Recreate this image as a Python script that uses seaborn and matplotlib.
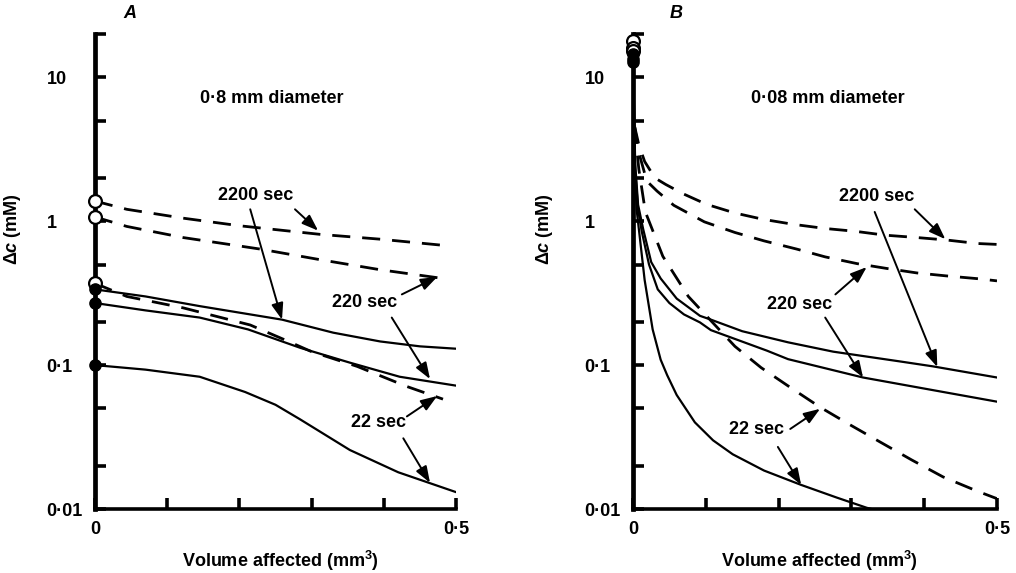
import matplotlib
matplotlib.use("Agg")
import matplotlib.pyplot as plt
from matplotlib.patches import ArrowStyle
import numpy as np
import pandas as pd
import seaborn as sns

# ---------------- data ----------------
# Panel A : 0.8 mm diameter
A_d2200_x = [0, 0.044, 0.122, 0.2, 0.312, 0.395, 0.482]
A_d2200_y = [1.38, 1.21, 1.05, 0.93, 0.81, 0.75, 0.68]
A_d220_x = [0, 0.044, 0.122, 0.229, 0.312, 0.395, 0.482]
A_d220_y = [1.07, 0.92, 0.77, 0.64, 0.54, 0.46, 0.40]
A_d22_x = [0, 0.044, 0.122, 0.215, 0.26, 0.30, 0.363, 0.432, 0.482]
A_d22_y = [0.37, 0.30, 0.25, 0.19, 0.152, 0.124, 0.098, 0.071, 0.058]
A_s2200_x = [0, 0.07, 0.145, 0.259, 0.33, 0.395, 0.45, 0.5]
A_s2200_y = [0.336, 0.30, 0.257, 0.207, 0.168, 0.146, 0.135, 0.130]
A_s220_x = [0, 0.07, 0.145, 0.212, 0.284, 0.353, 0.422, 0.5]
A_s220_y = [0.27, 0.24, 0.214, 0.177, 0.132, 0.104, 0.083, 0.072]
A_s22_x = [0, 0.07, 0.145, 0.208, 0.25, 0.284, 0.353, 0.42, 0.5]
A_s22_y = [0.10, 0.093, 0.083, 0.065, 0.053, 0.042, 0.0257, 0.018, 0.0131]
A_open = [1.38, 1.07, 0.37]
A_filled = [0.336, 0.27, 0.10]

# Panel B : 0.08 mm diameter
B_d2200_x = [0.002, 0.008, 0.016, 0.03, 0.045, 0.069, 0.101, 0.14, 0.179, 0.221,
             0.264, 0.306, 0.346, 0.39, 0.431, 0.473, 0.5]
B_d2200_y = [4.6, 3.4, 2.6, 2.0, 1.8, 1.55, 1.31, 1.14, 1.03, 0.95,
             0.89, 0.85, 0.80, 0.77, 0.74, 0.70, 0.69]
B_d220_x = [0.002, 0.008, 0.019, 0.033, 0.056, 0.098, 0.14, 0.18, 0.225, 0.264,
            0.308, 0.348, 0.39, 0.43, 0.475, 0.5]
B_d220_y = [4.6, 3.0, 1.9, 1.62, 1.29, 0.99, 0.835, 0.73, 0.64, 0.565,
            0.507, 0.47, 0.437, 0.417, 0.398, 0.385]
B_d22_x = [0.002, 0.008, 0.017, 0.041, 0.076, 0.103, 0.14, 0.176, 0.216, 0.257,
           0.298, 0.339, 0.383, 0.426, 0.473, 0.5]
B_d22_y = [4.6, 2.3, 1.16, 0.57, 0.30, 0.214, 0.135, 0.096, 0.070, 0.051,
           0.0385, 0.0293, 0.0219, 0.0167, 0.0133, 0.0118]
B_s2200_x = [0, 0.003, 0.007, 0.014, 0.025, 0.038, 0.06, 0.092, 0.107, 0.15,
             0.213, 0.275, 0.367, 0.412, 0.5]
B_s2200_y = [14.5, 2.5, 1.3, 0.88, 0.52, 0.40, 0.29, 0.22, 0.207, 0.172,
             0.144, 0.124, 0.106, 0.098, 0.082]
B_s220_x = [0, 0.003, 0.007, 0.012, 0.022, 0.034, 0.05, 0.07, 0.092, 0.107,
            0.184, 0.213, 0.316, 0.412, 0.5]
B_s220_y = [13.5, 2.3, 1.2, 0.85, 0.5, 0.336, 0.27, 0.225, 0.198, 0.175,
            0.126, 0.110, 0.082, 0.067, 0.0557]
B_s22_x = [0, 0.002, 0.005, 0.009, 0.016, 0.027, 0.038, 0.047, 0.06, 0.085,
           0.11, 0.137, 0.18, 0.231, 0.28, 0.321, 0.345]
B_s22_y = [12.8, 2.5, 1.2, 0.8, 0.39, 0.177, 0.109, 0.085, 0.062, 0.040,
           0.030, 0.024, 0.0185, 0.0147, 0.012, 0.0102, 0.0095]
B_open = [18.0, 16.0, 15.3]
B_filled = [14.5, 13.5, 12.8]

y_ticks = [0.01, 0.02, 0.05, 0.1, 0.2, 0.5, 1, 2, 5, 10, 20]
y_ticklabels = ["0·01", "", "", "0·1", "", "", "1", "", "", "10", ""]
x_ticks = [0, 0.1, 0.2, 0.3, 0.4, 0.5]
x_ticklabels = ["0", "", "", "", "", "0·5"]

# annotations: (text, text_xy, [(start, tip), ...])
A_notes = [
    ("2200 sec", (0.222, 1.52), [((0.277, 1.21), (0.309, 0.86)),
                                 ((0.215, 1.21), (0.259, 0.207))]),
    ("220 sec", (0.374, 0.272), [((0.425, 0.31), (0.474, 0.41)),
                                 ((0.411, 0.214), (0.464, 0.080))]),
    ("22 sec", (0.392, 0.0398), [((0.432, 0.044), (0.474, 0.061)),
                                 ((0.427, 0.031), (0.464, 0.0152))]),
]
B_notes = [
    ("2200 sec", (0.335, 1.49), [((0.387, 1.21), (0.429, 0.75)),
                                 ((0.332, 1.16), (0.418, 0.097))]),
    ("220 sec", (0.229, 0.264), [((0.278, 0.31), (0.321, 0.48)),
                                 ((0.264, 0.214), (0.316, 0.082))]),
    ("22 sec", (0.169, 0.0355), [((0.216, 0.036), (0.257, 0.0497)),
                                 ((0.199, 0.027), (0.231, 0.0147))]),
]

# ---------------- style ----------------
sns.set_theme(style="white")
plt.rcParams["font.family"] = ["Liberation Sans", "DejaVu Sans"]
plt.rcParams["font.weight"] = "bold"
plt.rcParams["mathtext.fontset"] = "custom"
plt.rcParams["mathtext.it"] = "Liberation Sans:italic:bold"
plt.rcParams["mathtext.rm"] = "Liberation Sans:bold"
plt.rcParams["mathtext.bf"] = "Liberation Sans:bold"
for k in ("text.color", "axes.labelcolor", "xtick.color", "ytick.color",
          "axes.edgecolor"):
    plt.rcParams[k] = "black"

FS = 13
DASH = (0, (6.5, 4.3))

fig = plt.figure(figsize=(10.16, 5.73), dpi=100)
axA = fig.add_axes([95 / 1016, 64 / 573, 361 / 1016, 475 / 573])
axB = fig.add_axes([633 / 1016, 64 / 573, 364 / 1016, 475 / 573])


def draw(ax, dashed, solid, opens, filled, notes, title, title_x, letter,
         ylab_x, letter_x):
    for xs, ys in dashed:
        df = pd.DataFrame({"vol": xs, "dc": ys})
        sns.lineplot(data=df, x="vol", y="dc", ax=ax, color="black", lw=2.0,
                     linestyle=DASH, sort=False, estimator=None)
    for xs, ys in solid:
        df = pd.DataFrame({"vol": xs, "dc": ys})
        sns.lineplot(data=df, x="vol", y="dc", ax=ax, color="black", lw=1.6,
                     sort=False, estimator=None)
    sns.scatterplot(x=[0] * len(opens), y=opens, ax=ax, marker="o", s=85,
                    facecolor="white", edgecolor="black", linewidth=1.6,
                    clip_on=False, zorder=5)
    sns.scatterplot(x=[0] * len(filled), y=filled, ax=ax, marker="o", s=65,
                    color="black", edgecolor="black", linewidth=1,
                    clip_on=False, zorder=6)
    ax.set_yscale("log")
    ax.set_xlim(0, 0.5)
    ax.set_ylim(0.01, 20)
    ax.set_yticks(y_ticks)
    ax.set_yticklabels(y_ticklabels)
    ax.set_xticks(x_ticks)
    ax.set_xticklabels(x_ticklabels)
    ax.minorticks_off()
    for s in ("top", "right"):
        ax.spines[s].set_visible(False)
    ax.spines["left"].set_linewidth(3.4)
    ax.spines["bottom"].set_linewidth(2.6)
    ax.tick_params(axis="y", direction="in", length=8, width=2.6, pad=35,
                   labelsize=FS, left=True, colors="black")
    ax.tick_params(axis="x", direction="in", length=8, width=2.6, pad=9,
                   labelsize=FS, bottom=True, colors="black")
    for lab in ax.get_yticklabels():
        lab.set_horizontalalignment("left")
    ax.set_ylabel("Δ$\\mathit{c}$ (mM)", fontsize=FS, fontweight="bold")
    ax.yaxis.set_label_coords(ylab_x, 0.59)
    ax.set_xlabel("Volume affected (mm$^{\\mathbf{3}}$)", fontsize=FS,
                  fontweight="bold")
    ax.xaxis.set_label_coords(0.513, -0.084)
    ax.text(title_x, 7.08, title, fontsize=FS, ha="center", va="center")
    ax.text(letter_x, 1.044, letter, transform=ax.transAxes, fontsize=FS,
            style="italic", fontweight="bold", ha="center", va="center")
    style = ArrowStyle("-|>", head_length=0.55, head_width=0.2)
    for txt, pos, arrows in notes:
        ax.text(pos[0], pos[1], txt, fontsize=FS, ha="center", va="center")
        for start, tip in arrows:
            ax.annotate("", xy=tip, xytext=start,
                        arrowprops=dict(arrowstyle=style, color="black", lw=1.4,
                                        mutation_scale=18, shrinkA=0, shrinkB=0))
    ax.grid(False)


draw(axA,
     [(A_d2200_x, A_d2200_y), (A_d220_x, A_d220_y), (A_d22_x, A_d22_y)],
     [(A_s2200_x, A_s2200_y), (A_s220_x, A_s220_y), (A_s22_x, A_s22_y)],
     A_open, A_filled, A_notes, "0·8 mm diameter", 0.245, "A", -0.199, 0.097)
draw(axB,
     [(B_d2200_x, B_d2200_y), (B_d220_x, B_d220_y), (B_d22_x, B_d22_y)],
     [(B_s2200_x, B_s2200_y), (B_s220_x, B_s220_y), (B_s22_x, B_s22_y)],
     B_open, B_filled, B_notes, "0·08 mm diameter", 0.268, "B", -0.214, 0.118)

fig.savefig("out.png", dpi=100, facecolor="white")
